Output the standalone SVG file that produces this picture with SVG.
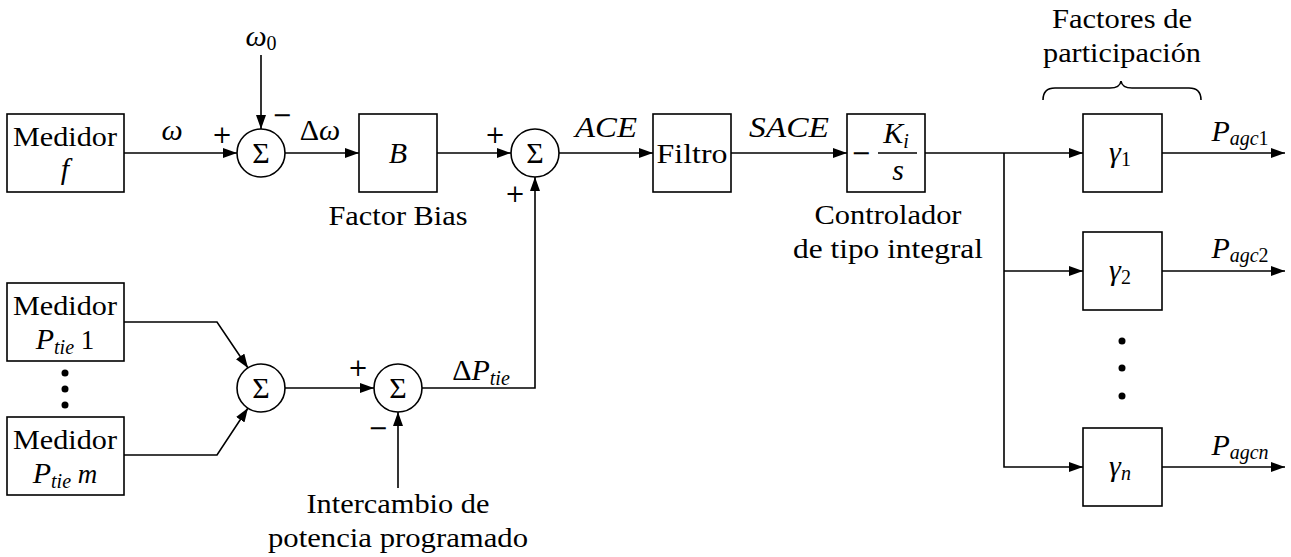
<svg xmlns="http://www.w3.org/2000/svg" width="1291" height="557" viewBox="0 0 1291 557" font-family="'Liberation Serif', 'DejaVu Serif', serif">
<style>
text{font-family:'Liberation Serif','DejaVu Serif',serif;fill:#000;font-size:27px}
.t{text-anchor:middle}
.i{font-style:italic}
.m{font-size:30px}
.s{font-size:20px}
.sg{font-size:30px}
.pm{font-family:'DejaVu Serif',serif;font-size:24px}
.box{fill:#fff;stroke:#000;stroke-width:1.6}
.sum{fill:#fff;stroke:#000;stroke-width:1.6}
.ln{fill:none;stroke:#000;stroke-width:1.6}
</style>
<defs>
<marker id="ar" markerUnits="userSpaceOnUse" markerWidth="14" markerHeight="10" refX="14" refY="5" orient="auto">
<path d="M0,0 L14,5 L0,10 z" fill="#000"/>
</marker>
</defs>
<rect width="1291" height="557" fill="#fff"/>

<g id="connectors" class="ln">
<line x1="124" y1="153" x2="237" y2="153" marker-end="url(#ar)"/>
<line x1="261" y1="55" x2="261" y2="129" marker-end="url(#ar)"/>
<line x1="285" y1="153" x2="359" y2="153" marker-end="url(#ar)"/>
<line x1="437" y1="153" x2="511" y2="153" marker-end="url(#ar)"/>
<line x1="559" y1="153" x2="653" y2="153" marker-end="url(#ar)"/>
<line x1="731" y1="153" x2="847" y2="153" marker-end="url(#ar)"/>
<line x1="925" y1="153" x2="1083" y2="153" marker-end="url(#ar)"/>
<polyline points="1004,153 1004,467 1083,467" marker-end="url(#ar)"/>
<line x1="1004" y1="271" x2="1083" y2="271" marker-end="url(#ar)"/>
<line x1="1162" y1="153" x2="1285" y2="153" marker-end="url(#ar)"/>
<line x1="1162" y1="271" x2="1285" y2="271" marker-end="url(#ar)"/>
<line x1="1162" y1="467" x2="1285" y2="467" marker-end="url(#ar)"/>
<polyline points="124,322 217,322 248,368" marker-end="url(#ar)"/>
<polyline points="124,455 217,455 248,408" marker-end="url(#ar)"/>
<line x1="285" y1="388" x2="374" y2="388" marker-end="url(#ar)"/>
<line x1="398" y1="488" x2="398" y2="412" marker-end="url(#ar)"/>
<polyline points="422,388 535,388 535,177" marker-end="url(#ar)"/>
</g>

<g id="medidor-f">
<rect class="box" x="7" y="114" width="117" height="78"/>
<text class="t" x="65" y="146" textLength="104" lengthAdjust="spacingAndGlyphs">Medidor</text>
<text class="t i m" x="65" y="179">f</text>
</g>

<g id="sum1">
<circle class="sum" cx="261" cy="153" r="24"/>
<text class="t sg" x="261" y="163">Σ</text>
</g>
<g id="omega0"><text class="t i m" x="261" y="46">ω<tspan class="s" font-style="normal" dy="4">0</tspan></text></g>
<g id="sum1-signs">
<text class="t pm" x="222" y="143">+</text>
<text class="t pm" x="282" y="123">−</text>
</g>
<g id="label-omega"><text class="t i m" x="172" y="140">ω</text></g>
<g id="label-domega"><text class="t m" x="320" y="140">Δ<tspan class="i">ω</tspan></text></g>

<g id="bias">
<rect class="box" x="359" y="114" width="78" height="78"/>
<text class="t i m" x="398" y="163">B</text>
<text class="t" x="398" y="225" textLength="139" lengthAdjust="spacingAndGlyphs">Factor Bias</text>
</g>

<g id="sum2">
<circle class="sum" cx="535" cy="153" r="24"/>
<text class="t sg" x="535" y="163">Σ</text>
<text class="t pm" x="495" y="143">+</text>
<text class="t pm" x="515" y="202">+</text>
</g>
<g id="label-ace"><text class="t i m" x="606" y="137" textLength="62" lengthAdjust="spacingAndGlyphs">ACE</text></g>

<g id="filtro">
<rect class="box" x="653" y="114" width="78" height="78"/>
<text class="t" x="692" y="163" textLength="71" lengthAdjust="spacingAndGlyphs">Filtro</text>
</g>
<g id="label-sace"><text class="t i m" x="789" y="137" textLength="80" lengthAdjust="spacingAndGlyphs">SACE</text></g>

<g id="integral">
<rect class="box" x="847" y="114" width="78" height="78"/>
<text class="pm" x="851" y="161">−</text>
<line class="ln" x1="878" y1="153" x2="917" y2="153"/>
<text class="t i m" x="896" y="143">K<tspan class="s" dy="5">i</tspan></text>
<text class="t i m" x="898" y="180">s</text>
<text class="t" x="888" y="224" textLength="147" lengthAdjust="spacingAndGlyphs">Controlador</text>
<text class="t" x="888" y="258" textLength="190" lengthAdjust="spacingAndGlyphs">de tipo integral</text>
</g>

<g id="participacion">
<text class="t" x="1122" y="28" textLength="140" lengthAdjust="spacingAndGlyphs">Factores de</text>
<text class="t" x="1122" y="62" textLength="158" lengthAdjust="spacingAndGlyphs">participación</text>
<path class="ln" d="M1043,100 Q1043,88 1055,88 L1110,88 Q1120,88 1121,81 Q1122,88 1132,88 L1189,88 Q1201,88 1201,100"/>
</g>

<g id="gamma1">
<rect class="box" x="1083" y="114" width="79" height="78"/>
<text class="t i m" x="1120" y="162">γ<tspan class="s" font-style="normal" dy="4">1</tspan></text>
</g>
<g id="gamma2">
<rect class="box" x="1083" y="232" width="79" height="78"/>
<text class="t i m" x="1120" y="280">γ<tspan class="s" font-style="normal" dy="4">2</tspan></text>
</g>
<g id="gamma-dots">
<circle cx="1122" cy="341" r="3.5"/>
<circle cx="1122" cy="368" r="3.5"/>
<circle cx="1122" cy="396" r="3.5"/>
</g>
<g id="gamman">
<rect class="box" x="1083" y="428" width="79" height="78"/>
<text class="t i m" x="1120" y="476">γ<tspan class="s" dy="4">n</tspan></text>
</g>
<g id="outputs">
<text class="t i m" x="1240" y="141">P<tspan class="s" dy="4">agc</tspan><tspan class="s" font-style="normal">1</tspan></text>
<text class="t i m" x="1240" y="258">P<tspan class="s" dy="4">agc</tspan><tspan class="s" font-style="normal">2</tspan></text>
<text class="t i m" x="1240" y="455">P<tspan class="s" dy="4">agcn</tspan></text>
</g>

<g id="medidor-ptie1">
<rect class="box" x="7" y="283" width="117" height="78"/>
<text class="t" x="65" y="315" textLength="104" lengthAdjust="spacingAndGlyphs">Medidor</text>
<text class="t" x="65" y="349"><tspan class="i m">P</tspan><tspan class="s i" dy="5">tie</tspan><tspan dy="-5"> 1</tspan></text>
</g>
<g id="ptie-dots">
<circle cx="65" cy="373" r="3.5"/>
<circle cx="65" cy="389" r="3.5"/>
<circle cx="65" cy="405" r="3.5"/>
</g>
<g id="medidor-ptiem">
<rect class="box" x="7" y="417" width="117" height="78"/>
<text class="t i" x="65" y="483"><tspan class="m">P</tspan><tspan class="s" dy="5">tie</tspan><tspan dy="-5"> m</tspan></text>
<text class="t" x="65" y="449" textLength="104" lengthAdjust="spacingAndGlyphs">Medidor</text>
</g>

<g id="sum3">
<circle class="sum" cx="261" cy="388" r="24"/>
<text class="t sg" x="261" y="398">Σ</text>
</g>
<g id="sum4">
<circle class="sum" cx="398" cy="388" r="24"/>
<text class="t sg" x="398" y="398">Σ</text>
<text class="t pm" x="358" y="376">+</text>
<text class="t pm" x="378" y="436">−</text>
</g>
<g id="label-dptie"><text class="t m" x="481" y="380">Δ<tspan class="i">P</tspan><tspan class="s i" dy="5">tie</tspan></text></g>
<g id="intercambio">
<text class="t" x="398" y="513" textLength="183" lengthAdjust="spacingAndGlyphs">Intercambio de</text>
<text class="t" x="398" y="547" textLength="260" lengthAdjust="spacingAndGlyphs">potencia programado</text>
</g>
</svg>
